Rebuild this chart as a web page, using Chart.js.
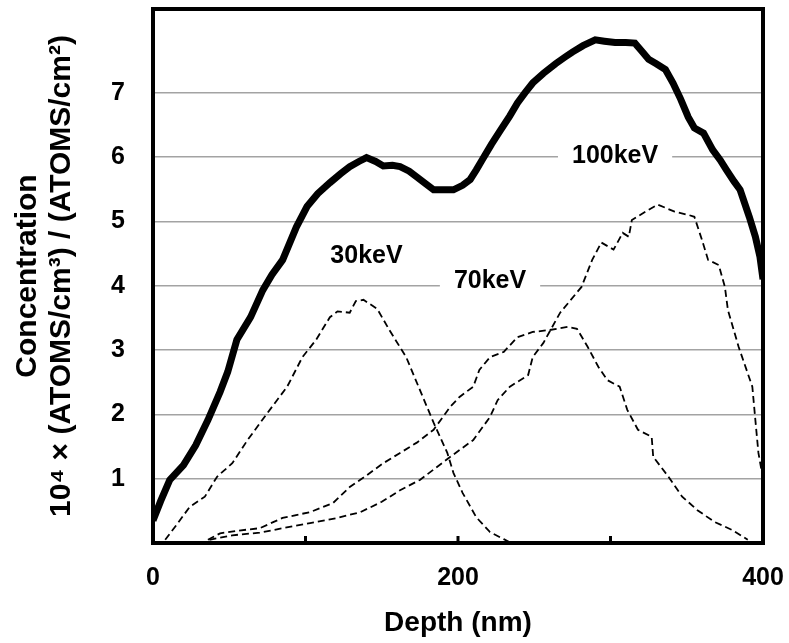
<!DOCTYPE html>
<html>
<head>
<meta charset="utf-8">
<title>Implant depth profile</title>
<script src="https://cdn.jsdelivr.net/npm/chart.js"></script>
<style>
  html, body { margin: 0; padding: 0; background: #fff; }
</style>
</head>
<body>
<canvas id="chart" width="789" height="643"></canvas>
<script>
// Total profile (thick line)
const totalDepth = [0, 5, 11, 20, 28, 36, 44, 49, 55, 64, 72, 78, 85, 94, 101, 108, 116, 123, 129, 135, 140, 146, 151, 157, 162, 168, 173, 179, 184, 190, 197, 203, 208, 212, 216, 222, 228, 234, 239, 244, 249, 256, 264, 270, 275, 282, 290, 296, 303, 310, 316, 320, 325, 330, 336, 341, 346, 351, 355, 361, 367, 372, 376, 381, 385, 391, 395, 398, 400];
const totalConc = [0.35, 0.65, 0.98, 1.21, 1.52, 1.91, 2.35, 2.66, 3.16, 3.51, 3.93, 4.17, 4.40, 4.91, 5.23, 5.43, 5.60, 5.74, 5.85, 5.93, 5.99, 5.93, 5.86, 5.87, 5.85, 5.78, 5.69, 5.58, 5.49, 5.49, 5.49, 5.56, 5.65, 5.80, 5.96, 6.20, 6.42, 6.64, 6.84, 7.00, 7.15, 7.30, 7.45, 7.55, 7.63, 7.73, 7.82, 7.80, 7.78, 7.78, 7.77, 7.66, 7.52, 7.45, 7.36, 7.15, 6.90, 6.62, 6.45, 6.37, 6.11, 5.95, 5.80, 5.62, 5.49, 5.07, 4.76, 4.45, 4.10];

// 30keV implant (dashed)
const kev30Depth = [8, 16, 24, 34, 42, 52, 62, 75, 88, 98, 107, 116, 121, 129, 133, 138, 147, 155, 166, 175, 184, 193, 197, 203, 212, 221, 230, 235];
const kev30Conc = [0.05, 0.30, 0.56, 0.72, 1.03, 1.24, 1.60, 2.02, 2.43, 2.89, 3.16, 3.51, 3.60, 3.58, 3.76, 3.78, 3.64, 3.31, 2.89, 2.38, 1.87, 1.40, 1.09, 0.78, 0.40, 0.17, 0.06, 0];

// 70keV implant (dashed)
const kev70Depth = [36, 44, 55, 70, 85, 103, 118, 129, 140, 151, 162, 173, 184, 195, 201, 210, 214, 221, 230, 239, 249, 260, 272, 278, 285, 292, 298, 306, 311, 318, 327, 328, 338, 347, 357, 368, 380, 390];
const kev70Conc = [0.05, 0.15, 0.19, 0.23, 0.39, 0.48, 0.62, 0.87, 1.05, 1.24, 1.40, 1.56, 1.76, 2.12, 2.27, 2.43, 2.69, 2.89, 2.97, 3.20, 3.28, 3.31, 3.36, 3.33, 3.05, 2.74, 2.53, 2.43, 2.07, 1.76, 1.65, 1.34, 1.03, 0.72, 0.51, 0.33, 0.20, 0.05];

// 100keV implant (dashed)
const kev100Depth = [37, 52, 70, 85, 103, 121, 136, 150, 162, 175, 195, 210, 221, 226, 234, 246, 249, 256, 267, 281, 288, 294, 302, 308, 312, 314, 323, 331, 342, 351, 355, 360, 364, 371, 375, 377, 384, 393, 395, 397, 400];
const kev100Conc = [0.05, 0.12, 0.16, 0.23, 0.31, 0.39, 0.48, 0.64, 0.82, 0.98, 1.34, 1.60, 1.96, 2.22, 2.43, 2.61, 2.89, 3.11, 3.58, 3.98, 4.40, 4.67, 4.56, 4.82, 4.76, 5.02, 5.15, 5.26, 5.15, 5.10, 5.07, 4.71, 4.40, 4.32, 3.98, 3.62, 3.05, 2.43, 1.91, 1.40, 1.00];

const xTicksShown = [0, 200, 400];
const yTicksShown = [1, 2, 3, 4, 5, 6, 7];

// in-plot labels (data coordinates)
const noteText = ['30keV', '70keV', '100keV'];
const noteDepth = [140, 221, 303];
const noteConc = [4.46, 4.07, 6.02];

const FONT = "'Liberation Sans', Arial, sans-serif";

const toPoints = (xs, ys) => xs.map((x, i) => ({ x: x, y: ys[i] }));

const dashed = (label, xs, ys) => ({
  label: label,
  data: toPoints(xs, ys),
  borderColor: '#000',
  borderWidth: 1.8,
  borderDash: [7, 4],
  pointRadius: 0,
  fill: false
});

// labels with white box behind them, drawn over the grid
const notesPlugin = {
  id: 'notes',
  beforeDatasetsDraw(chart) {
    const ctx = chart.ctx;
    const xs = chart.scales.x, ys = chart.scales.y;
    ctx.save();
    ctx.font = 'bold 25px ' + FONT;
    ctx.textAlign = 'center';
    ctx.textBaseline = 'middle';
    noteText.forEach((t, i) => {
      const px = xs.getPixelForValue(noteDepth[i]);
      const py = ys.getPixelForValue(noteConc[i]);
      const w = ctx.measureText(t).width + 28;
      ctx.fillStyle = '#fff';
      ctx.fillRect(px - w / 2, py - 15, w, 30);
      ctx.fillStyle = '#000';
      ctx.fillText(t, px, py);
    });
    ctx.restore();
  }
};

// thick frame and small inward ticks on the depth axis
const framePlugin = {
  id: 'frame',
  afterDatasetsDraw(chart) {
    const { ctx, chartArea: a } = chart;
    const xs = chart.scales.x;
    ctx.save();
    ctx.strokeStyle = '#000';
    ctx.lineWidth = 3;
    xs.ticks.forEach((t) => {
      const px = xs.getPixelForValue(t.value);
      ctx.beginPath();
      ctx.moveTo(px, a.bottom);
      ctx.lineTo(px, a.bottom - 7);
      ctx.stroke();
    });
    ctx.lineWidth = 4;
    ctx.strokeRect(a.left, a.top, a.right - a.left, a.bottom - a.top);
    ctx.restore();
  }
};

// fixed axis boxes, no extra room for overhanging labels
const fixBox = (size) => (s) => {
  if (s.isHorizontal()) s.height = size; else s.width = size;
  s.paddingTop = 0;
  s.paddingBottom = 0;
  s.paddingLeft = 0;
  s.paddingRight = 0;
};

new Chart(document.getElementById('chart'), {
  type: 'line',
  data: {
    datasets: [
      {
        label: 'Total',
        data: toPoints(totalDepth, totalConc),
        borderColor: '#000',
        borderWidth: 7,
        pointRadius: 0,
        fill: false
      },
      dashed('30keV', kev30Depth, kev30Conc),
      dashed('70keV', kev70Depth, kev70Conc),
      dashed('100keV', kev100Depth, kev100Conc)
    ]
  },
  options: {
    responsive: false,
    animation: false,
    layout: { padding: { left: 0, right: 26, top: 9, bottom: 0 } },
    plugins: {
      legend: { display: false },
      tooltip: { enabled: false }
    },
    scales: {
      x: {
        type: 'linear',
        min: 0,
        max: 400,
        afterFit: fixBox(100),
        border: { display: false },
        grid: { drawOnChartArea: false, drawTicks: false },
        ticks: {
          stepSize: 100,
          padding: 20,
          color: '#000',
          font: { family: FONT, size: 25, weight: 'bold' },
          callback: (v) => xTicksShown.includes(v) ? String(v) : ''
        },
        title: {
          display: true,
          text: 'Depth (nm)',
          color: '#000',
          font: { family: FONT, size: 28, weight: 'bold' },
          padding: { top: 0, bottom: 3 }
        }
      },
      y: {
        min: 0,
        max: 8.3,
        afterFit: fixBox(153),
        border: { display: false },
        grid: {
          drawTicks: false,
          lineWidth: 1.5,
          color: (c) => yTicksShown.includes(c.tick.value) ? '#a3a3a3' : 'rgba(0,0,0,0)'
        },
        ticks: {
          stepSize: 1,
          padding: 28,
          color: '#000',
          font: { family: FONT, size: 25, weight: 'bold' },
          callback: (v) => yTicksShown.includes(v) ? String(v) : ''
        },
        title: {
          display: true,
          text: ['Concentration', '10\u2074 \u00d7 (ATOMS/cm\u00b3) / (ATOMS/cm\u00b2)'],
          color: '#000',
          font: { family: FONT, size: 30, weight: 'bold', lineHeight: 1.13 },
          padding: { top: 11, bottom: 0 }
        }
      }
    }
  },
  plugins: [notesPlugin, framePlugin]
});
</script>
</body>
</html>
